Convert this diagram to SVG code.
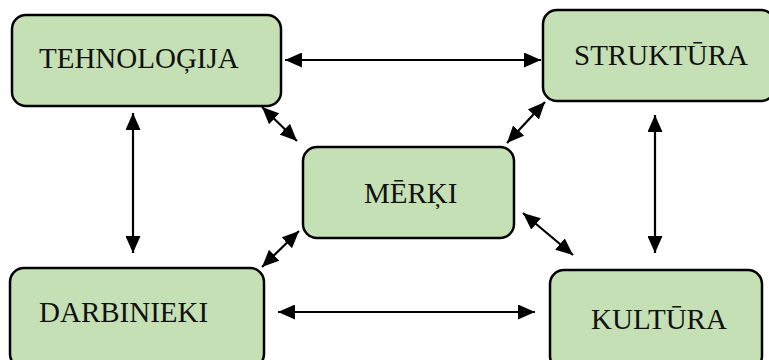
<svg xmlns="http://www.w3.org/2000/svg" width="769" height="360" viewBox="0 0 769 360">
<style>
.box{fill:#C5E0B4;stroke:#000;stroke-width:2.5}
.lbl{font-family:"Liberation Serif","Times New Roman",serif;font-size:29px;fill:#111}
.con{stroke:#000;stroke-width:2.2;fill:none;marker-start:url(#ah);marker-end:url(#ah)}
</style>
<defs>
<marker id="ah" markerUnits="userSpaceOnUse" markerWidth="18" markerHeight="15" viewBox="0 0 18 15" refX="17" refY="7.5" orient="auto-start-reverse">
<path d="M0,0 L17,7.5 L0,15 z" fill="#000"/>
</marker>
</defs>
<rect width="769" height="360" fill="#fff"/>
<g id="connectors">
<line class="con" x1="285" y1="60" x2="541" y2="60"/>
<line class="con" x1="278" y1="312" x2="535" y2="312"/>
<line class="con" x1="133" y1="113" x2="133" y2="253"/>
<line class="con" x1="655" y1="115" x2="655" y2="253"/>
<line class="con" x1="262" y1="107" x2="297" y2="141"/>
<line class="con" x1="545" y1="102" x2="507" y2="143"/>
<line class="con" x1="299" y1="231" x2="262" y2="267"/>
<line class="con" x1="523" y1="213" x2="573" y2="255"/>
</g>
<g id="tehnologija">
<rect class="box" x="12" y="15" width="269" height="91" rx="14"/>
<text class="lbl" x="39" y="68">TEHNOLOĢIJA</text>
</g>
<g id="struktura">
<rect class="box" x="543" y="10" width="232" height="91" rx="14"/>
<text class="lbl" x="574" y="65">STRUKTŪRA</text>
</g>
<g id="merki">
<rect class="box" x="303" y="147" width="211" height="91" rx="14"/>
<text class="lbl" x="364" y="203">MĒRĶI</text>
</g>
<g id="darbinieki">
<rect class="box" x="10" y="268" width="254" height="100" rx="14"/>
<text class="lbl" x="39" y="322">DARBINIEKI</text>
</g>
<g id="kultura">
<rect class="box" x="550" y="270" width="212" height="100" rx="14"/>
<text class="lbl" x="591" y="329">KULTŪRA</text>
</g>
</svg>
